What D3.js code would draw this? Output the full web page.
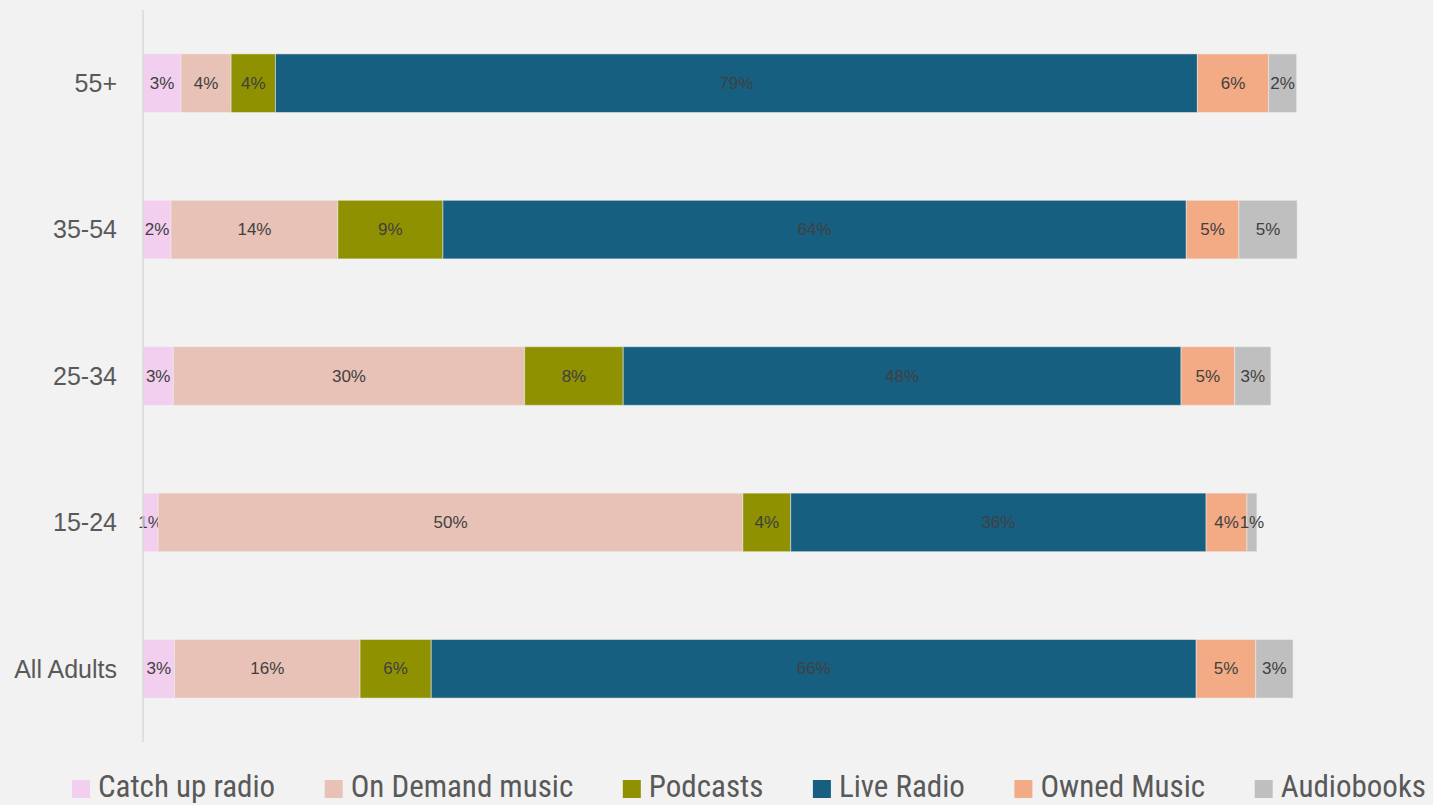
<!DOCTYPE html>
<html>
<head>
    <style type="text/css">
        body { margin: 0; background: #f2f2f2; }
        #mySvg { width: 1433px; height: 805px; display: block; background: #f2f2f2; }
        text { font-family: "Liberation Sans", Arial, sans-serif; }
        .val { font-size: 17px; fill: #404040; text-anchor: middle; dominant-baseline: central; }
        .leg { font-family: "Liberation Sans Narrow", "Roboto Condensed", "Liberation Sans", sans-serif; font-size: 31px; fill: #595959; }
    </style>
    <script src="https://d3js.org/d3.v7.min.js"></script>
</head>
<body>
    <svg id="mySvg"></svg>
</body>
<script type="text/javascript">
// age groups, top to bottom
const groups = ['55+', '35-54', '25-34', '15-24', 'All Adults'];
const seriesNames = ['Catch up radio', 'On Demand music', 'Podcasts', 'Live Radio', 'Owned Music', 'Audiobooks'];
const colors = ['#f2ceef', '#e8c2b7', '#8f9100', '#175f80', '#f3ab85', '#bfbfbf'];

// share of listening (%), one array per series, in the order of groups
const catchUp   = [3.25, 2.4, 2.6, 1.3, 2.7];
const onDemand  = [4.3, 14.3, 30.1, 50.1, 15.9];
const podcasts  = [3.8, 9.0, 8.45, 4.1, 6.1];
const liveRadio = [79.0, 63.7, 47.8, 35.6, 65.55];
const owned     = [6.1, 4.5, 4.6, 3.5, 5.1];
const audiobooks = [2.4, 5.0, 3.1, 0.85, 3.2];

const seriesData = [catchUp, onDemand, podcasts, liveRadio, owned, audiobooks];

const rows = groups.map((g, i) => {
    const r = { group: g };
    seriesNames.forEach((s, j) => r[s] = seriesData[j][i]);
    return r;
});

const stack = d3.stack().keys(seriesNames)(rows);

const svg = d3.select('#mySvg');

const x = d3.scaleLinear().domain([0, 100]).range([143, 1310]);
const y = d3.scaleBand().domain(groups).range([10, 742]).paddingInner(0.6).paddingOuter(0.3);

const color = d3.scaleOrdinal().domain(seriesNames).range(colors);

// segments
const layers = svg.append('g').selectAll('g')
    .data(stack)
    .enter()
    .append('g')
    .attr('fill', d => color(d.key));

layers.selectAll('rect')
    .data(d => d)
    .enter()
    .append('rect')
    .attr('x', d => x(d[0]))
    .attr('y', d => y(d.data.group))
    .attr('width', d => x(d[1]) - x(d[0]))
    .attr('height', y.bandwidth())
    .attr('stroke', '#f2f2f2')
    .attr('stroke-opacity', 0.5)
    .attr('stroke-width', 1);

// value labels
layers.selectAll('text')
    .data(d => d)
    .enter()
    .append('text')
    .attr('class', 'val')
    .attr('x', d => (x(d[0]) + x(d[1])) / 2)
    .attr('y', d => y(d.data.group) + y.bandwidth() / 2)
    .text(d => Math.round(d[1] - d[0]) + '%');

// y axis
const yAxis = svg.append('g')
    .attr('transform', 'translate(143,0)')
    .call(d3.axisLeft(y).tickSize(0).tickPadding(26));
yAxis.select('.domain').attr('stroke', '#d9d9d9').attr('stroke-width', 1.5)
    .attr('d', 'M0,10V742');
yAxis.selectAll('text')
    .attr('dy', '0.35em')
    .attr('fill', '#595959')
    .style('font-size', '25px')
    .style('font-family', '"Liberation Sans", Arial, sans-serif');

// legend, baseline at y=797
const legend = svg.append('g').attr('transform', 'translate(0,797)');
const items = legend.selectAll('g')
    .data(seriesNames)
    .enter()
    .append('g');
items.append('rect')
    .attr('y', -17)
    .attr('width', 18)
    .attr('height', 18)
    .attr('fill', d => color(d));
items.append('text')
    .attr('class', 'leg')
    .attr('x', 26)
    .text(d => d);

let widths = [];
items.each(function() { widths.push(26 + d3.select(this).select('text').node().getComputedTextLength()); });
// spread the items between the legend edges
const left = 72, right = 1426;
const gap = ((right - left) - d3.sum(widths)) / (widths.length - 1);
let cx = left;
items.attr('transform', (d, i) => {
    const t = 'translate(' + cx + ',0)';
    cx += widths[i] + gap;
    return t;
});
</script>
</html>
